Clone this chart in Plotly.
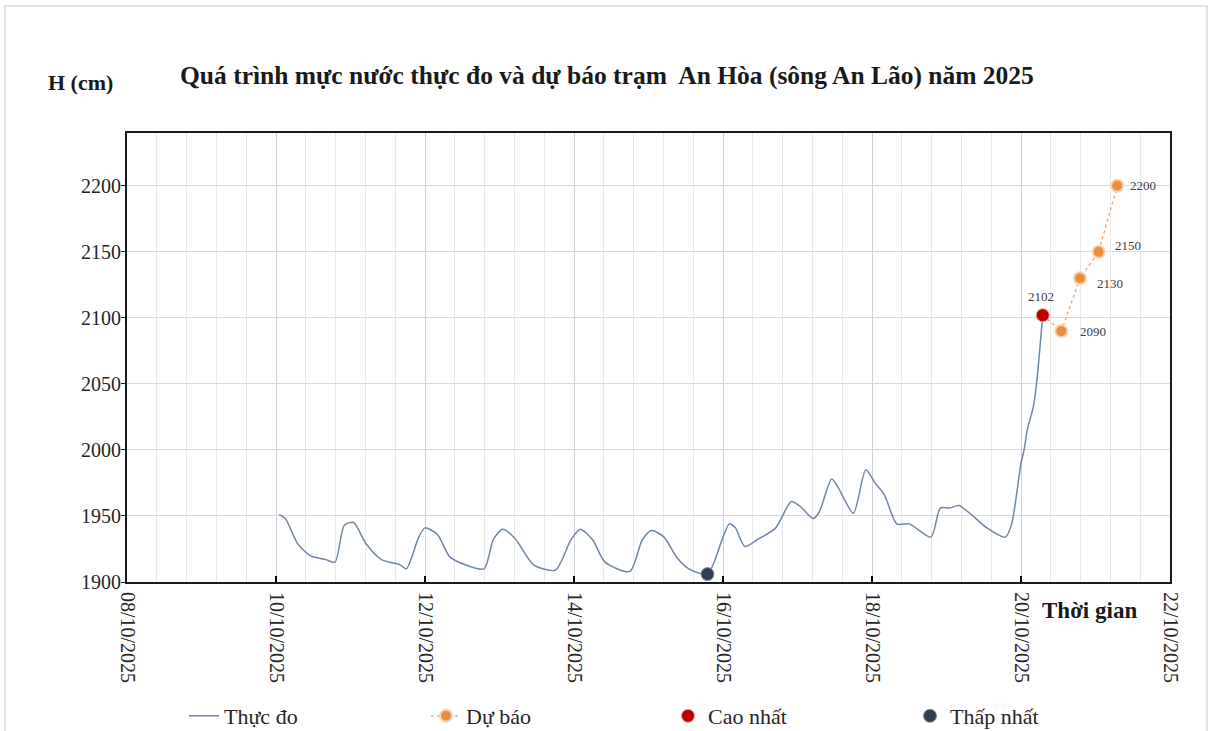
import plotly.graph_objects as go

# ---------------- data ----------------
obs_time = [
    "2025-10-10 01:00", "2025-10-10 03:00", "2025-10-10 07:00", "2025-10-10 11:00",
    "2025-10-10 16:00", "2025-10-10 19:00", "2025-10-10 22:00", "2025-10-11 01:00",
    "2025-10-11 05:00", "2025-10-11 10:00", "2025-10-11 16:00", "2025-10-11 18:00",
    "2025-10-11 22:00", "2025-10-12 00:00", "2025-10-12 04:00", "2025-10-12 08:00",
    "2025-10-12 13:00", "2025-10-12 19:00", "2025-10-12 22:00", "2025-10-13 01:00",
    "2025-10-13 05:00", "2025-10-13 11:00", "2025-10-13 18:00", "2025-10-13 23:00",
    "2025-10-14 02:00", "2025-10-14 06:00", "2025-10-14 10:00", "2025-10-14 18:00",
    "2025-10-14 22:00", "2025-10-15 01:00", "2025-10-15 05:00", "2025-10-15 09:00",
    "2025-10-15 13:00", "2025-10-15 19:00", "2025-10-16 00:00", "2025-10-16 02:00",
    "2025-10-16 04:00", "2025-10-16 07:00", "2025-10-16 11:00", "2025-10-16 17:00",
    "2025-10-16 22:00", "2025-10-17 01:00", "2025-10-17 05:00", "2025-10-17 07:00",
    "2025-10-17 11:00", "2025-10-17 13:00", "2025-10-17 18:00", "2025-10-17 22:00",
    "2025-10-18 01:00", "2025-10-18 04:00", "2025-10-18 08:00", "2025-10-18 12:00",
    "2025-10-18 19:00", "2025-10-18 22:00", "2025-10-19 01:00", "2025-10-19 04:00",
    "2025-10-19 08:00", "2025-10-19 13:00", "2025-10-19 19:00", "2025-10-19 21:00",
    "2025-10-20 00:00", "2025-10-20 01:00", "2025-10-20 02:00", "2025-10-20 04:00",
    "2025-10-20 05:00", "2025-10-20 07:00",
]
obs_value = [
    1951, 1948, 1929, 1920,
    1917, 1915, 1943, 1945,
    1929, 1917, 1913, 1910,
    1934, 1941, 1936, 1919,
    1913, 1910, 1932, 1940,
    1933, 1913, 1909, 1932,
    1940, 1932, 1915, 1908,
    1932, 1939, 1934, 1919,
    1910, 1906, 1934, 1944,
    1941, 1927, 1932, 1941,
    1961, 1957, 1948, 1953,
    1978, 1972, 1952, 1985,
    1975, 1966, 1944, 1944,
    1934, 1956, 1956, 1958,
    1951, 1941, 1934, 1944,
    1990, 2000, 2015, 2033,
    2050, 2102,
]

fc_time = ["2025-10-20 07:00", "2025-10-20 13:00", "2025-10-20 19:00",
           "2025-10-21 01:00", "2025-10-21 07:00"]
fc_value = [2102, 2090, 2130, 2150, 2200]

max_time = ["2025-10-20 07:00"]
max_value = [2102]
min_time = ["2025-10-15 19:00"]
min_value = [1906]

series_names = ["Thực đo", "Dự báo", "Cao nhất", "Thấp nhất"]
title_text = "Quá trình mực nước thực đo và dự báo trạm  An Hòa (sông An Lão) năm 2025"
y_title = "H (cm)"
x_title = "Thời gian"

# ---------------- styling ----------------
SERIF = "Liberation Serif, Times New Roman, serif"
W, H = 1214, 731
ML, MR, MT, MB = 127, 44, 133, 149
PW, PH = W - ML - MR, H - MT - MB


def px_x(p):
    return (p - ML) / PW


def px_y(p):
    return (H - MB - p) / PH


fig = go.Figure()

fig.add_trace(go.Scatter(
    x=obs_time, y=obs_value, name=series_names[0], mode="lines",
    line=dict(color="#6E86A8", width=1.5, shape="spline", smoothing=0.7),
))
fig.add_trace(go.Scatter(
    x=fc_time, y=fc_value, name=series_names[1], mode="lines+markers",
    line=dict(color="#F0A060", width=1.3, dash="dot"),
    marker=dict(color="#ED8B3E", size=12, line=dict(color="#F9D3B0", width=2)),
))
fig.add_trace(go.Scatter(
    x=max_time, y=max_value, name=series_names[2], mode="markers",
    marker=dict(color="#C00000", size=13, line=dict(color="#E8A0A0", width=1)),
))
fig.add_trace(go.Scatter(
    x=min_time, y=min_value, name=series_names[3], mode="markers",
    marker=dict(color="#333F50", size=13, line=dict(color="#8090A0", width=1)),
))

# data labels
label_shift = [(-2, 19), (32, 0), (30, -5), (29, 6), (26, 0)]
annos = []
for i, (t, v) in enumerate(zip(fc_time, fc_value)):
    dx, dy = label_shift[i]
    annos.append(dict(
        x=t, y=v, xref="x", yref="y", text=str(v), showarrow=False,
        xanchor="center", yanchor="middle",
        xshift=dx, yshift=dy, font=dict(family=SERIF, size=13, color="#404040"),
    ))

annos.append(dict(text=f"<b>{y_title}</b>", xref="paper", yref="paper",
                  x=px_x(80), y=px_y(82), xanchor="center", yanchor="middle",
                  showarrow=False,
                  font=dict(family=SERIF, size=22, color="#1a1a1a")))
annos.append(dict(text=f"<b>{x_title}</b>", xref="paper", yref="paper",
                  x=px_x(1040), xanchor="left", y=px_y(610), yanchor="middle",
                  showarrow=False,
                  font=dict(family=SERIF, size=23, color="#1a1a1a")))
annos.append(dict(text=f"<b>{title_text}</b>", xref="paper", yref="paper",
                  x=px_x(607), y=px_y(75), xanchor="center", yanchor="middle",
                  showarrow=False,
                  font=dict(family=SERIF, size=25.5, color="#1a1a1a")))

fig.update_layout(
    width=W, height=H,
    margin=dict(l=ML, r=MR, t=MT, b=MB, pad=0, autoexpand=False),
    paper_bgcolor="white", plot_bgcolor="white",
    font=dict(family=SERIF, size=16, color="#262626"),
    showlegend=True,
    legend=dict(
        orientation="h", x=px_x(184), xanchor="left",
        y=px_y(716), yanchor="middle",
        entrywidth=197, entrywidthmode="pixels",
        font=dict(family=SERIF, size=22, color="#262626"),
        bgcolor="rgba(0,0,0,0)",
    ),
    annotations=annos,
    shapes=[dict(type="rect", xref="paper", yref="paper",
                 x0=px_x(5), x1=px_x(1207), y0=px_y(745), y1=px_y(6),
                 line=dict(color="#D9D9D9", width=1.5), layer="below")],
)

fig.update_xaxes(
    type="date",
    range=["2025-10-08", "2025-10-22"],
    tick0="2025-10-08", dtick=2 * 86400000,
    tickformat="%d/%m/%Y", tickangle=90,
    ticks="inside", ticklen=6, tickcolor="#000000", tickwidth=1.5,
    ticklabelstandoff=4, automargin=False,
    showline=True, linecolor="#1a1a1a", linewidth=2, mirror=True,
    showgrid=True, gridcolor="#D0D0D0", gridwidth=1,
    minor=dict(dtick=0.4 * 86400000, tick0="2025-10-08", showgrid=True,
               gridcolor="#E8E8E8", gridwidth=1, ticks=""),
    tickfont=dict(family=SERIF, size=20, color="#262626"),
    zeroline=False,
)
fig.update_yaxes(
    range=[1900, 2240],
    tick0=1900, dtick=50,
    ticks="outside", ticklen=4, tickcolor="#1a1a1a",
    ticklabelstandoff=-4, automargin=False,
    showline=True, linecolor="#1a1a1a", linewidth=2, mirror=True,
    showgrid=True, gridcolor="#D9D9D9", gridwidth=1,
    tickfont=dict(family=SERIF, size=20, color="#262626"),
    zeroline=False,
)

fig.write_html("out.html", config={"displayModeBar": False},
               post_script="document.body.style.margin='0px';")
